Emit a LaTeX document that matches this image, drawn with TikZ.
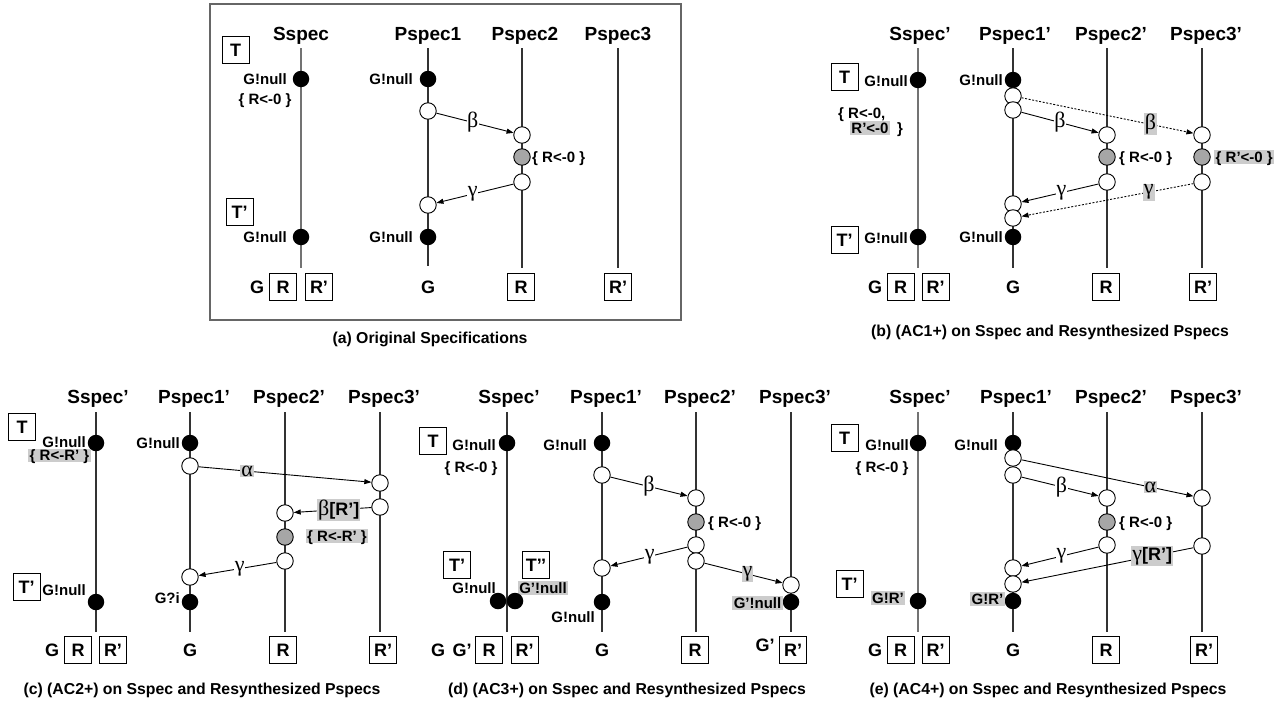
\documentclass[tikz,border=0pt]{standalone}
\usepackage{fontspec}
\setmainfont{Liberation Sans}
\newfontfamily\grk{Liberation Serif}
\usetikzlibrary{arrows.meta}
\newcommand\fHdr{\bfseries\fontsize{19}{21}\selectfont}
\newcommand\fLbl{\bfseries\fontsize{15}{17}\selectfont}
\newcommand\fBox{\bfseries\fontsize{18}{20}\selectfont}
\newcommand\fCap{\bfseries\fontsize{15.8}{17}\selectfont}
\newcommand\fGrk{\grk\fontsize{22}{24}\selectfont}
\tikzset{
 hdr/.style={font=\fHdr, inner sep=0, text height=13.7pt, text depth=0pt},
 lbl/.style={font=\fLbl, inner sep=0, text height=10.8pt, text depth=0pt},
 bx/.style={draw, line width=1pt, minimum width=27pt, minimum height=27pt, inner sep=0, font=\fBox, text height=13pt, text depth=0pt},
 btx/.style={font=\fBox, inner sep=0, text height=13pt, text depth=0pt},
 capt/.style={font=\fCap, inner sep=0},
 life/.style={line width=1.2pt, black!80},
 slife/.style={line width=1.2pt, black!55},
 fd/.style={circle, fill=black, minimum size=16.5pt, inner sep=0},
 oc/.style={circle, draw, line width=0.9pt, fill=white, minimum size=16.5pt, inner sep=0},
 sc/.style={circle, draw, line width=0.9pt, fill=black!35, minimum size=16.5pt, inner sep=0},
 hl/.style={fill=black!20, inner sep=1.5pt},
 msg/.style={line width=0.9pt, -{Triangle[length=7pt,width=5pt]}},
 dmsg/.style={msg, dash pattern=on 2pt off 1.6pt},
 gl/.style={font=\fGrk, fill=white, inner sep=0.5pt},
 ghl/.style={font=\fGrk, fill=black!20, inner sep=1pt},
}
\begin{document}
\begin{tikzpicture}[x=1pt,y=-1pt]
\path[use as bounding box] (0,0) rectangle (1288,704);

% ================= (a) =================
\draw[black!60, line width=1.3pt] (210,4) rectangle (681,320);
\node[hdr] (aH1) at (301,33.5) {Sspec};
\node[hdr] (aH2) at (428,33.5) {Pspec1};
\node[hdr] (aH3) at (525,33.5) {Pspec2};
\node[hdr] (aH4) at (618,33.5) {Pspec3};
\coordinate (aL1t) at (301,48); \coordinate (aL1b) at (301,268);
\coordinate (aL2t) at (428,48); \coordinate (aL2b) at (428,266);
\coordinate (aL3t) at (522,48); \coordinate (aL3b) at (522,268);
\coordinate (aL4t) at (618,48); \coordinate (aL4b) at (618,268);
\draw[slife] (aL1t) -- (aL1b);
\draw[life] (aL2t) -- (aL2b);
\draw[life] (aL3t) -- (aL3b);
\draw[life] (aL4t) -- (aL4b);
\node[bx] (aT) at (235.5,49.5) {T};
\node[fd] (aS1) at (301,79) {};
\node[lbl, anchor=east] (aS1l) at (287,79) {G!null};
\node[lbl] (aS1r) at (265,99) {\{ R<-0 \}};
\node[bx] (aT2) at (239.5,212) {T’};
\node[fd] (aS2) at (301,237) {};
\node[lbl, anchor=east] (aS2l) at (287,237) {G!null};
\node[btx] (aG) at (257,286.5) {G};
\node[bx] (aR) at (283,286.5) {R};
\node[bx] (aRp) at (319,286.5) {R’};
\node[fd] (aP1a) at (428,79) {};
\node[lbl, anchor=east] (aP1al) at (413,79) {G!null};
\node[oc] (aP1b) at (428,111) {};
\node[oc] (aP1c) at (428,205) {};
\node[fd] (aP1d) at (428,237) {};
\node[lbl, anchor=east] (aP1dl) at (413,237) {G!null};
\node[btx] (aG1) at (428,286.5) {G};
\node[oc] (aP2a) at (522,135) {};
\node[sc] (aP2b) at (522,157) {};
\node[lbl, anchor=west] (aP2bl) at (532,157) {\{ R<-0 \}};
\node[oc] (aP2c) at (522,182) {};
\node[bx] (aR2) at (521,286.5) {R};
\node[bx] (aR3) at (618,286.5) {R’};
\draw[msg] (aP1b) -- node[gl, pos=0.47] {β} (aP2a);
\draw[msg] (aP2c) -- node[gl, pos=0.53] {γ} (aP1c);
\node[capt] (aCap) at (430,339) {(a) Original Specifications};

% ================= (b) =================
\node[hdr] (bH1) at (920,33.5) {Sspec’};
\node[hdr] (bH2) at (1015,33.5) {Pspec1’};
\node[hdr] (bH3) at (1111,33.5) {Pspec2’};
\node[hdr] (bH4) at (1206,33.5) {Pspec3’};
\coordinate (bL1t) at (918,48); \coordinate (bL1b) at (918,268);
\coordinate (bL2t) at (1013,48); \coordinate (bL2b) at (1013,268);
\coordinate (bL3t) at (1107,48); \coordinate (bL3b) at (1107,268);
\coordinate (bL4t) at (1202,48); \coordinate (bL4b) at (1202,268);
\draw[slife] (bL1t) -- (bL1b);
\draw[life] (bL2t) -- (bL2b);
\draw[life] (bL3t) -- (bL3b);
\draw[life] (bL4t) -- (bL4b);
\node[bx] (bT) at (844.5,77) {T};
\node[fd] (bS1) at (918,80) {};
\node[lbl, anchor=east] (bS1l) at (908,81) {G!null};
\node[lbl, anchor=west] (bS1r) at (838,113) {\{ R<-0,};
\node[lbl, hl] (bS1r2) at (870,128) {R’<-0};
\node[lbl, anchor=west] (bS1r3) at (897,128) {\}};
\node[bx] (bT2) at (844.5,240) {T’};
\node[fd] (bS2) at (918,237) {};
\node[lbl, anchor=east] (bS2l) at (908,238) {G!null};
\node[btx] (bG) at (875,286.5) {G};
\node[bx] (bR) at (900.5,286.5) {R};
\node[bx] (bRp) at (935.5,286.5) {R’};
\node[fd] (bP1a) at (1013,80) {};
\node[lbl, anchor=east] (bP1al) at (1003,80) {G!null};
\node[oc] (bP1b) at (1013,96) {};
\node[oc] (bP1c) at (1013,110) {};
\node[oc] (bP1d) at (1013,204) {};
\node[oc] (bP1e) at (1013,218) {};
\node[fd] (bP1f) at (1013,237) {};
\node[lbl, anchor=east] (bP1fl) at (1003,237) {G!null};
\node[btx] (bG1) at (1013,286.5) {G};
\node[oc] (bP2a) at (1107,135) {};
\node[sc] (bP2b) at (1107,157) {};
\node[lbl, anchor=west] (bP2bl) at (1119,157) {\{ R<-0 \}};
\node[oc] (bP2c) at (1107,182) {};
\node[bx] (bR2) at (1106,286.5) {R};
\node[oc] (bP3a) at (1202,135) {};
\node[sc] (bP3b) at (1202,157) {};
\node[lbl, hl, anchor=west] (bP3bl) at (1214,157) {\{ R’<-0 \}};
\node[oc] (bP3c) at (1202,182) {};
\node[bx] (bR3) at (1203,286.5) {R’};
\draw[msg] (bP1c) -- node[gl, pos=0.5] {β} (bP2a);
\draw[dmsg] (bP1b) -- node[ghl, pos=0.75] {β} (bP3a);
\draw[msg] (bP2c) -- node[gl, pos=0.48] {γ} (bP1d);
\draw[dmsg] (bP3c) -- node[ghl, pos=0.26] {γ} (bP1e);
\node[capt] (bCap) at (1050,332) {(b) (AC1+) on Sspec and Resynthesized Pspecs};

% ================= (c) =================
\node[hdr] (cH1) at (98,397) {Sspec’};
\node[hdr] (cH2) at (194,397) {Pspec1’};
\node[hdr] (cH3) at (289,397) {Pspec2’};
\node[hdr] (cH4) at (384,397) {Pspec3’};
\coordinate (cL1t) at (96,412); \coordinate (cL1b) at (96,632);
\coordinate (cL2t) at (190,412); \coordinate (cL2b) at (190,632);
\coordinate (cL3t) at (285,412); \coordinate (cL3b) at (285,632);
\coordinate (cL4t) at (380,412); \coordinate (cL4b) at (380,632);
\draw[life] (cL1t) -- (cL1b);
\draw[life] (cL2t) -- (cL2b);
\draw[life] (cL3t) -- (cL3b);
\draw[life] (cL4t) -- (cL4b);
\node[bx] (cT) at (22,427) {T};
\node[fd] (cS1) at (96,443) {};
\node[lbl, anchor=east] (cS1l) at (86,442) {G!null};
\node[lbl, hl] (cS1r) at (59.5,455.5) {\{ R<-R’ \}};
\node[bx] (cT2) at (26.5,587) {T’};
\node[lbl, anchor=east] (cS2l) at (86,590) {G!null};
\node[fd] (cS2) at (96,602) {};
\node[btx] (cG) at (52,650) {G};
\node[bx] (cR) at (78,650) {R};
\node[bx] (cRp) at (113,650) {R’};
\node[fd] (cP1a) at (190,443) {};
\node[lbl, anchor=east] (cP1al) at (180,443) {G!null};
\node[oc] (cP1b) at (190,466) {};
\node[oc] (cP1c) at (190,577) {};
\node[fd] (cP1d) at (190,602) {};
\node[lbl, anchor=east] (cP1dl) at (180,598) {G?i};
\node[btx] (cG1) at (190,650) {G};
\node[oc] (cP2a) at (285,513) {};
\node[sc] (cP2b) at (285,537) {};
\node[lbl, hl] (cP2bl) at (337,536) {\{ R<-R’ \}};
\node[oc] (cP2c) at (285,561) {};
\node[bx] (cR2) at (283,650) {R};
\node[oc] (cP3a) at (380,483) {};
\node[oc] (cP3b) at (380,507) {};
\node[bx] (cR3) at (383,650) {R’};
\draw[msg] (cP1b) -- node[ghl, pos=0.28] {α} (cP3a);
\draw[msg] (cP3b) -- node[hl, inner sep=1pt, pos=0.42] {{\fGrk β}{\fBox[R’]}} (cP2a);
\draw[msg] (cP2c) -- node[gl, pos=0.47] {γ} (cP1c);
\node[capt] (cCap) at (202,690) {(c) (AC2+) on Sspec and Resynthesized Pspecs};

% ================= (d) =================
\node[hdr] (dH1) at (509,397) {Sspec’};
\node[hdr] (dH2) at (606,397) {Pspec1’};
\node[hdr] (dH3) at (700,397) {Pspec2’};
\node[hdr] (dH4) at (795,397) {Pspec3’};
\coordinate (dL1t) at (507,412); \coordinate (dL1b) at (507,632);
\coordinate (dL2t) at (602,412); \coordinate (dL2b) at (602,632);
\coordinate (dL3t) at (696,412); \coordinate (dL3b) at (696,632);
\coordinate (dL4t) at (791,412); \coordinate (dL4b) at (791,632);
\draw[life] (dL1t) -- (dL1b);
\draw[life] (dL2t) -- (dL2b);
\draw[life] (dL3t) -- (dL3b);
\draw[life] (dL4t) -- (dL4b);
\node[bx] (dT) at (433,441) {T};
\node[fd] (dS1) at (507,443) {};
\node[lbl, anchor=east] (dS1l) at (496,445) {G!null};
\node[lbl] (dS1r) at (471,467) {\{ R<-0 \}};
\node[bx] (dT2) at (457,565) {T’};
\node[bx] (dT3) at (536,565) {T’’};
\node[lbl, anchor=east] (dS2l) at (496,588) {G!null};
\node[lbl, hl] (dS3l) at (543,588) {G’!null};
\node[fd] (dS2) at (498,601) {};
\node[fd] (dS3) at (515,601) {};
\node[btx] (dG) at (438,650) {G};
\node[btx] (dGp) at (462,650) {G’};
\node[bx] (dR) at (489,650) {R};
\node[bx] (dRp) at (524.5,650) {R’};
\node[fd] (dP1a) at (602,443) {};
\node[lbl, anchor=east] (dP1al) at (587,445) {G!null};
\node[oc] (dP1b) at (602,475) {};
\node[oc] (dP1c) at (602,568) {};
\node[fd] (dP1d) at (602,602) {};
\node[lbl, anchor=east] (dP1dl) at (595,617) {G!null};
\node[btx] (dG1) at (602,650) {G};
\node[oc] (dP2a) at (696,498) {};
\node[sc] (dP2b) at (696,522) {};
\node[lbl, anchor=west] (dP2bl) at (708,522) {\{ R<-0 \}};
\node[oc] (dP2c) at (696,545) {};
\node[oc] (dP2d) at (696,561) {};
\node[bx] (dR2) at (695,650) {R};
\node[oc] (dP3a) at (791,585) {};
\node[fd] (dP3b) at (791,602) {};
\node[lbl, hl] (dP3bl) at (757.5,603) {G’!null};
\node[btx] (dG3) at (765,645) {G’};
\node[bx] (dR3) at (793,650) {R’};
\draw[msg] (dP1b) -- node[gl, pos=0.5] {β} (dP2a);
\draw[msg] (dP2c) -- node[gl, pos=0.49] {γ} (dP1c);
\draw[msg] (dP2d) -- node[ghl, pos=0.55] {γ} (dP3a);
\node[capt] (dCap) at (627,690) {(d) (AC3+) on Sspec and Resynthesized Pspecs};

% ================= (e) =================
\node[hdr] (eH1) at (920,397) {Sspec’};
\node[hdr] (eH2) at (1016,397) {Pspec1’};
\node[hdr] (eH3) at (1111,397) {Pspec2’};
\node[hdr] (eH4) at (1206,397) {Pspec3’};
\coordinate (eL1t) at (918,412); \coordinate (eL1b) at (918,632);
\coordinate (eL2t) at (1013,412); \coordinate (eL2b) at (1013,632);
\coordinate (eL3t) at (1107,412); \coordinate (eL3b) at (1107,632);
\coordinate (eL4t) at (1202,412); \coordinate (eL4b) at (1202,632);
\draw[slife] (eL1t) -- (eL1b);
\draw[life] (eL2t) -- (eL2b);
\draw[life] (eL3t) -- (eL3b);
\draw[life] (eL4t) -- (eL4b);
\node[bx] (eT) at (844.5,437.5) {T};
\node[fd] (eS1) at (918,443) {};
\node[lbl, anchor=east] (eS1l) at (909,445) {G!null};
\node[lbl] (eS1r) at (882,467) {\{ R<-0 \}};
\node[bx] (eT2) at (849.5,583.5) {T’};
\node[lbl, hl] (eS2l) at (888,598) {G!R’};
\node[fd] (eS2) at (918,601) {};
\node[btx] (eG) at (875,650) {G};
\node[bx] (eR) at (900.5,650) {R};
\node[bx] (eRp) at (935.5,650) {R’};
\node[fd] (eP1a) at (1013,443) {};
\node[lbl, anchor=east] (eP1al) at (998,445) {G!null};
\node[oc] (eP1b) at (1013,458) {};
\node[oc] (eP1c) at (1013,475) {};
\node[oc] (eP1d) at (1013,568) {};
\node[oc] (eP1e) at (1013,584) {};
\node[fd] (eP1f) at (1013,601) {};
\node[lbl, hl, anchor=east] (eP1fl) at (1005,599) {G!R’};
\node[btx] (eG1) at (1013,650) {G};
\node[oc] (eP2a) at (1107,498) {};
\node[sc] (eP2b) at (1107,522) {};
\node[lbl, anchor=west] (eP2bl) at (1119,522) {\{ R<-0 \}};
\node[oc] (eP2c) at (1107,545) {};
\node[bx] (eR2) at (1106,650) {R};
\node[oc] (eP3a) at (1202,498) {};
\node[oc] (eP3b) at (1202,546) {};
\node[bx] (eR3) at (1204,650) {R’};
\draw[msg] (eP1b) -- node[ghl, pos=0.75] {α} (eP3a);
\draw[msg] (eP1c) -- node[gl, pos=0.52] {β} (eP2a);
\draw[msg] (eP2c) -- node[gl, pos=0.48] {γ} (eP1d);
\draw[msg] (eP3b) -- node[hl, inner sep=1pt, pos=0.24] {{\fGrk γ}{\fBox[R’]}} (eP1e);
\node[capt] (eCap) at (1048,690) {(e) (AC4+) on Sspec and Resynthesized Pspecs};
\end{tikzpicture}
\end{document}
